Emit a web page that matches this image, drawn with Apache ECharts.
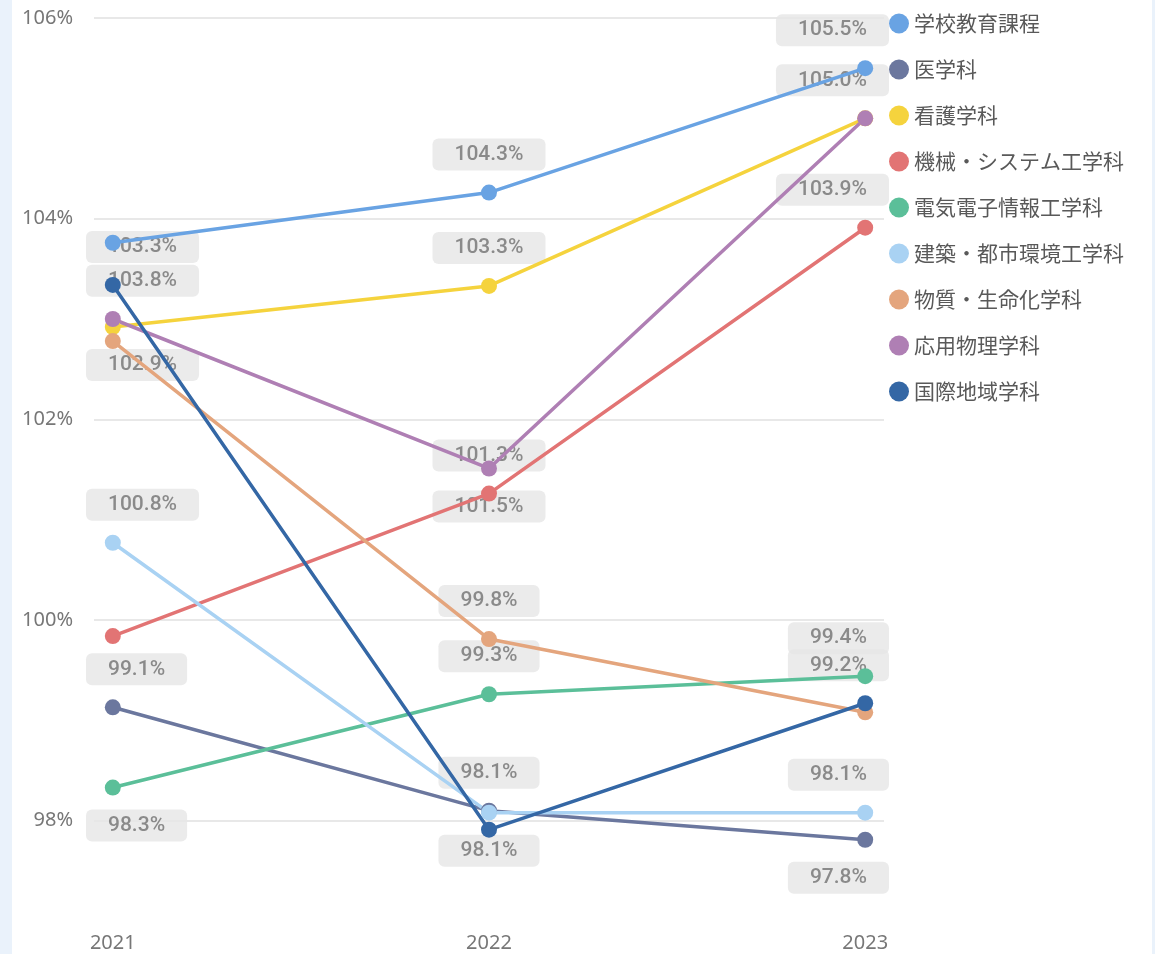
<!DOCTYPE html>
<html><head><meta charset="utf-8">
<script src="https://cdn.jsdelivr.net/npm/echarts@6/dist/echarts.min.js"></script>
<style>
html,body{margin:0;padding:0;background:#eaf2fb;width:1155px;height:954px;overflow:hidden}
#c{position:absolute;left:12px;top:0;width:1140px;height:954px;background:#fff}
</style>
</head><body><div id="c"></div>
<script>
const years = [2021, 2022, 2023];
const seriesNames = ['学校教育課程','医学科','看護学科','機械・システム工学科','電気電子情報工学科','建築・都市環境工学科','物質・生命化学科','応用物理学科','国際地域学科'];
const schoolEdu    = [103.76, 104.26, 105.50];
const medicine     = [99.13, 98.10, 97.81];
const nursing      = [102.92, 103.33, 105.00];
const mechSys      = [99.84, 101.26, 103.91];
const elecInfo     = [98.33, 99.26, 99.44];
const archUrban    = [100.77, 98.08, 98.08];
const materialLife = [102.78, 99.81, 99.08];
const appliedPhys  = [103.00, 101.51, 105.00];
const intlRegion   = [103.34, 97.91, 99.17];
const yTickValues  = [98, 100, 102, 104, 106];

const allValues = [schoolEdu, medicine, nursing, mechSys, elecInfo, archUrban, materialLife, appliedPhys, intlRegion];
const colors = ['#69a3e3','#6b779e','#f5d33d','#e27474','#5bbf99','#a9d2f3','#e4a57d','#af7fb4','#3467a5'];
// label placement per series per year (style only)
const placement = [
  ['bottom','top','top'],
  ['top','top','bottom'],
  ['bottom','top',null],
  [null,'top','top'],
  ['bottom','top','top'],
  ['top','bottom','top'],
  [null,'top',null],
  [null,'bottom','top'],
  ['top',null,'top']
];

const series = [];
seriesNames.forEach((name, i) => {
  series.push({
    name: name, type: 'line', z: 3,
    data: years.map((y, k) => [y, allValues[i][k]]),
    symbol: 'circle', symbolSize: 16,
    lineStyle: {width: 3.5, color: colors[i]},
    itemStyle: {color: colors[i]},
    emphasis: {disabled: true},
    label: {show: false}
  });
});
seriesNames.forEach((name, i) => {
  series.push({
    name: name + '_label', type: 'scatter', z: 2, silent: true,
    symbol: 'circle', symbolSize: 16,
    itemStyle: {color: 'rgba(0,0,0,0)'},
    emphasis: {disabled: true},
    data: years.map((y, k) => ({
      value: [y, allValues[i][k]],
      label: placement[i][k] ? {show: true, position: placement[i][k]} : {show: false}
    })),
    label: {
      show: true, distance: 14,
      formatter: p => p.value[1].toFixed(1) + '%',
      fontFamily: 'Roboto', fontSize: 21, fontWeight: 500, lineHeight: 20, color: '#727272',
      backgroundColor: '#e6e6e6', borderRadius: 6, padding: [6, 22]
    },
    labelLayout: function (p) {
      const r = p.labelRect;
      if (r.x < 74) return {dx: 74 - r.x};
      if (r.x + r.width > 877) return {dx: 877 - (r.x + r.width)};
      return {};
    }
  });
});

const chart = echarts.init(document.getElementById('c'));
chart.setOption({
  animation: false,
  backgroundColor: '#fff',
  grid: {left: 82, right: 268, top: 18, bottom: 33, containLabel: false},
  legend: {
    data: seriesNames, orient: 'vertical', left: 872, top: 8,
    icon: 'circle', itemWidth: 20, itemHeight: 20, itemGap: 25,
    textStyle: {fontFamily: 'Noto Sans CJK JP', fontSize: 21, color: '#595959', lineHeight: 20}
  },
  xAxis: {
    type: 'value', min: 2020.95, max: 2023.05,
    axisLine: {show: false}, axisTick: {show: false}, splitLine: {show: false},
    axisLabel: {customValues: years, formatter: v => String(v), fontFamily: 'Noto Sans', fontSize: 20, color: '#777', margin: 12}
  },
  yAxis: {
    type: 'value', min: 97, max: 106, interval: 1,
    axisLine: {show: false}, axisTick: {show: false},
    axisLabel: {formatter: v => (yTickValues.indexOf(v) >= 0 ? v + '%' : ''), fontFamily: 'Noto Sans', fontSize: 20, color: '#777', margin: 21},
    splitLine: {show: true, lineStyle: {color: ['rgba(0,0,0,0)', '#e8e8e8'], width: 2}}
  },
  series: series
});
</script>
</body></html>
